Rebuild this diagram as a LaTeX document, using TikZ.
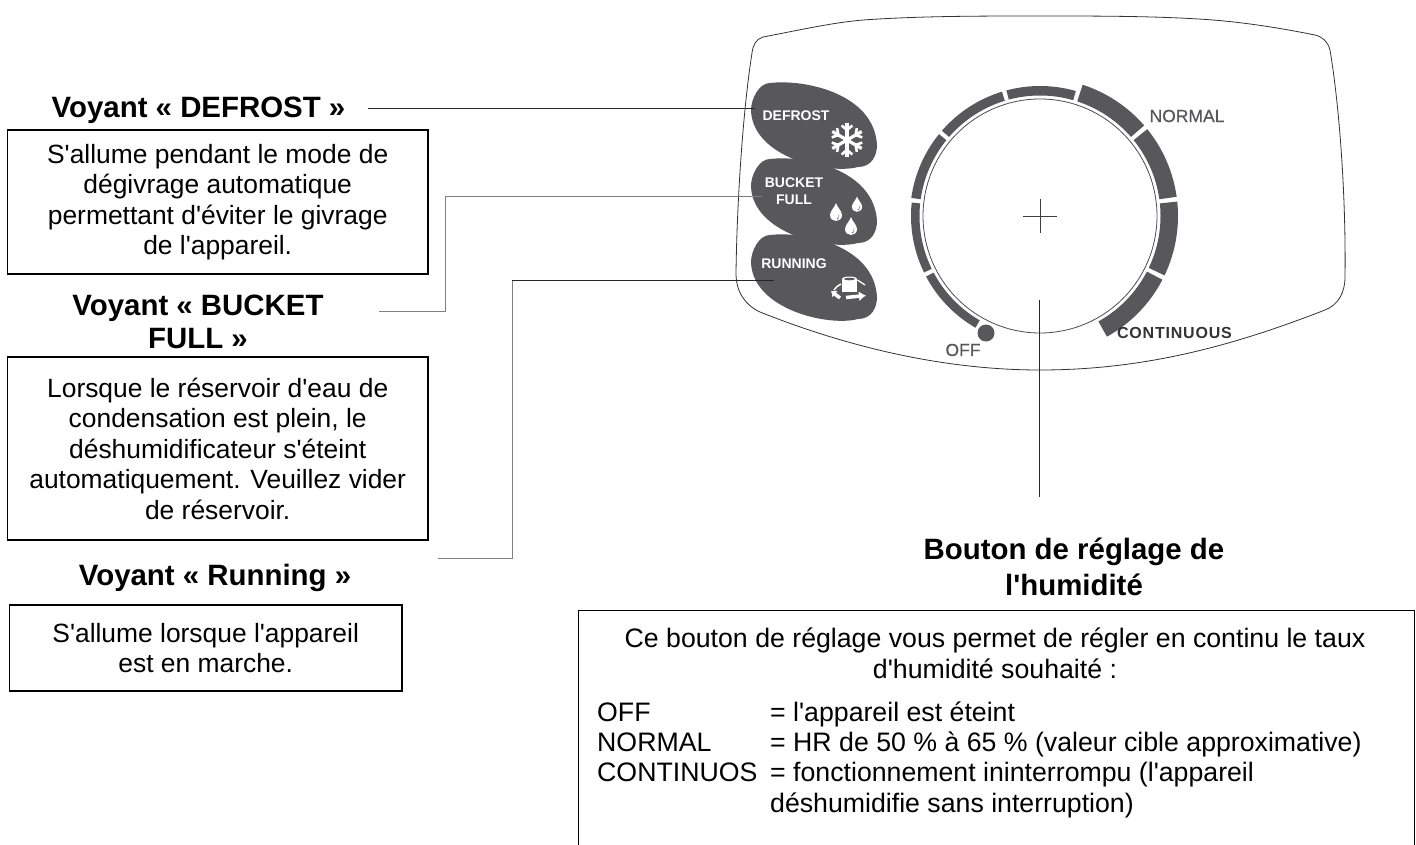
\documentclass[tikz,border=0pt]{standalone}
\usepackage{fontspec}
\setmainfont{Liberation Sans}[Ligatures=TeXOff]
\newfontfamily\spacedfont[LetterSpace=5]{Liberation Sans}
\newfontfamily\heavyfont[FakeBold=0.5]{Liberation Sans}
\usetikzlibrary{arrows.meta}
\definecolor{panelgray}{HTML}{58585A}
\tikzset{
  every picture/.style={
    x=1pt, y=1pt,
    >={Latex[width=6pt, length=6pt]}
  },
  infobox/.style={
    draw, line width=1.2pt, align=center, inner sep=0pt,
    font=\fontsize{26.4}{30.5}\selectfont
  },
  title/.style={
    align=center, inner sep=0pt,
    font=\fontsize{29.4}{33}\selectfont\bfseries
  },
  lamp text/.style={
    text=white, align=center, inner sep=0pt,
    font=\fontsize{14}{17}\selectfont\bfseries
  },
  panel text/.style={
    text=panelgray, inner sep=0pt,
    font=\fontsize{17.5}{20}\selectfont\heavyfont
  },
  leader/.style={line width=0.8pt, black!85},
  gray leader/.style={line width=0.9pt, black!50},
  row/.style={
    anchor=base west, inner sep=0pt,
    font=\fontsize{26.7}{31}\selectfont
  },
  lamp/.pic={
    \fill[panelgray] (-63,15) .. controls (-63,26) and (-55,42) .. (-44,42)
      .. controls (-10,46) and (60,32) .. (63,-20)
      .. controls (63,-30) and (58,-42) .. (44,-42)
      .. controls (14,-50) and (-62,-32) .. (-63,15);
  },
  drop/.pic={
    \fill[white] (0,10) .. controls (1,6) and (6,2) .. (6,-2)
      .. controls (6,-10) and (-6,-10) .. (-6,-2)
      .. controls (-6,2) and (-1,6) .. (0,10);
    \fill[panelgray] (0.5,-6) arc[start angle=-80, end angle=30, radius=3.5]
      -- (2.5,-3) arc[start angle=30, end angle=-70, radius=2.3] -- cycle;
  }
}
\begin{document}
\begin{tikzpicture}
  \useasboundingbox (0,0) rectangle (1416,-845);
  % panel outline
  \draw[line width=0.8pt, black!80] (763,-37) .. controls (800,-30) and (830,-23) .. (863,-20)
    .. controls (920,-16) and (980,-16) .. (1040,-16)
    .. controls (1100,-16) and (1160,-16) .. (1213,-20)
    .. controls (1250,-23) and (1285,-29) .. (1315,-35)
    .. controls (1323,-37) and (1328,-42) .. (1330,-50)
    .. controls (1340,-110) and (1346,-200) .. (1345,-277)
    .. controls (1345,-293) and (1338,-305) .. (1325,-310)
    .. controls (1240,-343) and (1150,-370) .. (1040,-370)
    .. controls (930,-370) and (830,-340) .. (760,-312)
    .. controls (745,-305) and (736,-292) .. (736,-273)
    .. controls (737,-200) and (743,-110) .. (752,-53)
    .. controls (753,-45) and (756,-39) .. (763,-37);

  % lamps
  \pic at (814,-125) {lamp};
  \pic at (814,-201) {lamp};
  \pic at (814,-277) {lamp};
  \node[lamp text] (textD) at (796,-116) {DEFROST};
  \node[lamp text] (textB) at (794,-191.5) {BUCKET\\FULL};
  \node[lamp text] (textR) at (794,-264) {RUNNING};

  % snowflake
  \begin{scope}[shift={(847,-140)}, white, line width=3.2pt]
    \foreach \a in {90,150,210,270,330,30}{
      \draw (0,0) -- (\a:17);
      \draw[line width=2.6pt] (\a:10) -- ++(\a+50:7);
      \draw[line width=2.6pt] (\a:10) -- ++(\a-50:7);
    }
  \end{scope}
  % drops
  \pic at (836,-213) {drop};
  \pic[scale=0.85] at (857,-205) {drop};
  \pic at (851,-227) {drop};
  % running symbol
  \begin{scope}[white]
    \fill (842,-279) rectangle (857,-292);
    \fill (849.5,-279) ellipse (7.5 and 2.5);
    \fill[panelgray] (849.5,-279) ellipse (5.5 and 1.3);
    \draw[line width=3.5pt, -{Latex[width=10pt, length=7pt]}] (846,-297.5) -- (866,-295.5);
    \draw[line width=1.5pt] (841,-284) to[bend right=15] (834,-290);
    \draw[line width=3.5pt, {Latex[width=9pt, length=5pt]}-] (831,-291) -- (840,-298);
    \draw[line width=1.3pt] (857.5,-280) -- (865,-285);
  \end{scope}

  % dial
  \begin{scope}[shift={(1040,-216)}]
    \coordinate (dial) at (0,0);
    \foreach \s/\e/\ro in {-61/-27.5/138, -25.5/6/138, 8/39/138, 41/72/138,
      74/105/130, 107/139/130, 141/172/130, 174/206/129, 208/240/129}{
      \fill[panelgray] (\s:120.5) arc[start angle=\s, end angle=\e, radius=120.5]
        -- (\e:\ro) arc[start angle=\e, end angle=\s, radius=\ro] -- cycle;
    }
    \draw[line width=0.8pt, black!70] (dial) circle (117);
    \draw[line width=0.7pt, black!75] (-17,0) -- (17,0) (0,17) -- (0,-17);
  \end{scope}
  \fill[panelgray] (986,-333) circle (8.5);
  \node[panel text] (normal) at (1187,-116) {NORMAL};
  \node[panel text] (off) at (963,-350) {OFF};
  \node[inner sep=0pt, text=black!80, font=\fontsize{16}{18}\selectfont\spacedfont\bfseries] (continuous) at (1174.5,-333) {CONTINUOUS};

  % titles and boxes
  \node[title] (titleD) at (198.5,-110) {Voyant « DEFROST »};
  \node[infobox, minimum width=420.5pt, minimum height=144pt] (boxD) at (217.7,-202)
    {S'allume pendant le mode de\\dégivrage automatique\\permettant d'éviter le givrage\\de l'appareil.};
  \node[title] (titleB) at (198,-321.5) {Voyant « BUCKET\\FULL »};
  \node[infobox, minimum width=420.5pt, minimum height=183pt] (boxB) at (217.7,-448.5)
    {Lorsque le réservoir d'eau de\\condensation est plein, le\\déshumidificateur s'éteint\\automatiquement. Veuillez vider\\de réservoir.};
  \node[title] (titleR) at (215,-578) {Voyant « Running »};
  \node[infobox, minimum width=392.5pt, minimum height=86pt] (boxR) at (205.7,-648)
    {S'allume lorsque l'appareil\\est en marche.};
  \node[title, font=\fontsize{29.4}{36}\selectfont\bfseries] (titleH) at (1074,-566.5) {Bouton de réglage de\\l'humidité};
  \node[draw, line width=1.2pt, anchor=north west, minimum width=836.5pt, minimum height=250pt, inner sep=0pt] (boxH) at (577.5,-610) {};
  \node[align=center, inner sep=0pt, font=\fontsize{26.7}{31}\selectfont] (introH) at (995,-653)
    {Ce bouton de réglage vous permet de régler en continu le taux\\d'humidité souhaité :};
  \node[row] (offkey) at (597,-721) {OFF};
  \node[row] (offval) at (770,-721) {= l'appareil est éteint};
  \node[row] (normkey) at (597,-751) {NORMAL};
  \node[row] (normval) at (770,-751) {= HR de 50 \% à 65 \% (valeur cible approximative)};
  \node[row] (contkey) at (597,-781) {CONTINUOS};
  \node[row] (contval) at (770,-781) {= fonctionnement ininterrompu (l'appareil};
  \node[row] (contmore) at (770,-812) {déshumidifie sans interruption)};

  % leaders
  \coordinate (startD) at (368,-108);
  \coordinate (endD) at (755,-108);
  \coordinate (startB) at (379,-311);
  \coordinate (cornerB) at (445,-196);
  \coordinate (endB) at (762,-196);
  \coordinate (startR) at (438,-558);
  \coordinate (cornerR) at (512,-280);
  \coordinate (endR) at (774,-280);
  \coordinate (startH) at (1039,-300);
  \coordinate (endH) at (1039,-497);
  \draw[leader] (startD) -- (endD);
  \draw[gray leader] (startB) -| (cornerB) -- (endB);
  \draw[gray leader] (startR) -| (cornerR);
  \draw[leader] (cornerR) -- (endR);
  \draw[leader] (startH) -- (endH);
\end{tikzpicture}
\end{document}
